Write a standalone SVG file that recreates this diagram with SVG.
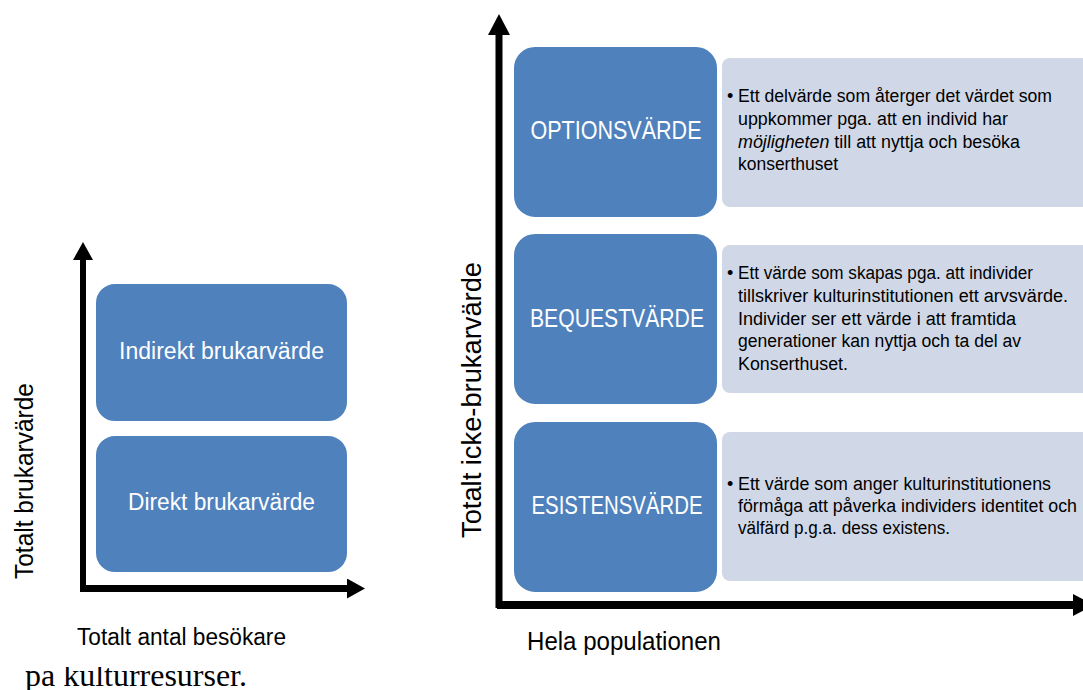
<svg xmlns="http://www.w3.org/2000/svg" width="1083" height="690" viewBox="0 0 1083 690">
<style>
.blue{fill:#4F81BD;stroke:#FFFFFF;stroke-width:2}
.light{fill:#D0D8E8;stroke:none}
.axis{stroke:#000000;fill:none}
.wt{font-family:"Liberation Sans",Arial,sans-serif;fill:#FFFFFF;text-anchor:middle}
.bt{font-family:"Liberation Sans",Arial,sans-serif;fill:#000000}
.desc{font-family:"Liberation Sans",Arial,sans-serif;fill:#000000;font-size:18px}
</style>
<defs>
<marker id="ahL" markerUnits="userSpaceOnUse" markerWidth="20" markerHeight="20" refX="0" refY="10" orient="auto" viewBox="0 0 20 20">
<path d="M0,0 L18,10 L0,20 Z" fill="#000"/>
</marker>
<marker id="ahR" markerUnits="userSpaceOnUse" markerWidth="22" markerHeight="22" refX="0" refY="11" orient="auto" viewBox="0 0 22 22">
<path d="M0,0 L21,11 L0,22 Z" fill="#000"/>
</marker>
<clipPath id="pageclip"><rect x="0" y="667" width="400" height="30"/></clipPath>
</defs>

<g id="connectors">
<line class="axis" x1="83" y1="592" x2="83" y2="260" stroke-width="6" marker-end="url(#ahL)"/>
<line class="axis" x1="80" y1="588.5" x2="347" y2="588.5" stroke-width="7" marker-end="url(#ahL)"/>
<line class="axis" x1="499" y1="608" x2="499" y2="35" stroke-width="7" marker-end="url(#ahR)"/>
<line class="axis" x1="497" y1="605" x2="1073" y2="605" stroke-width="8" marker-end="url(#ahR)"/>
</g>

<g id="node-indirekt">
<rect class="blue" x="95" y="283" width="253" height="139" rx="20"/>
<text class="wt" x="221.5" y="359" font-size="23" textLength="205" lengthAdjust="spacingAndGlyphs">Indirekt brukarvärde</text>
</g>
<g id="node-direkt">
<rect class="blue" x="95" y="435" width="253" height="138" rx="20"/>
<text class="wt" x="221.5" y="510" font-size="23" textLength="187" lengthAdjust="spacingAndGlyphs">Direkt brukarvärde</text>
</g>

<g id="label-left-y">
<text class="bt" transform="translate(33,481) rotate(-90)" text-anchor="middle" font-size="25" textLength="196" lengthAdjust="spacingAndGlyphs">Totalt brukarvärde</text>
</g>
<g id="label-left-x">
<text class="bt" x="77" y="645" font-size="23" textLength="209" lengthAdjust="spacingAndGlyphs">Totalt antal besökare</text>
</g>

<g id="desc-option">
<rect class="light" x="722" y="58" width="380" height="149" rx="8"/>
<text class="desc" x="727" y="102">•</text>
<text class="desc" x="738" y="102" textLength="314" lengthAdjust="spacingAndGlyphs">Ett delvärde som återger det värdet som</text>
<text class="desc" x="738" y="125" textLength="270" lengthAdjust="spacingAndGlyphs">uppkommer pga. att en individ har</text>
<text class="desc" x="738" y="148" textLength="282" lengthAdjust="spacingAndGlyphs"><tspan font-style="italic">möjligheten</tspan> till att nyttja och besöka</text>
<text class="desc" x="738" y="170" textLength="100" lengthAdjust="spacingAndGlyphs">konserthuset</text>
</g>
<g id="node-option">
<rect class="blue" x="513" y="46" width="205" height="172" rx="22"/>
<text class="wt" x="616" y="139" font-size="26" textLength="171" lengthAdjust="spacingAndGlyphs">OPTIONSVÄRDE</text>
</g>

<g id="desc-bequest">
<rect class="light" x="722" y="245" width="380" height="148" rx="8"/>
<text class="desc" x="727" y="279">•</text>
<text class="desc" x="738" y="279" textLength="295" lengthAdjust="spacingAndGlyphs">Ett värde som skapas pga. att individer</text>
<text class="desc" x="738" y="302" textLength="330" lengthAdjust="spacingAndGlyphs">tillskriver kulturinstitutionen ett arvsvärde.</text>
<text class="desc" x="738" y="325" textLength="278" lengthAdjust="spacingAndGlyphs">Individer ser ett värde i att framtida</text>
<text class="desc" x="738" y="347" textLength="283" lengthAdjust="spacingAndGlyphs">generationer kan nyttja och ta del av</text>
<text class="desc" x="738" y="370" textLength="110" lengthAdjust="spacingAndGlyphs">Konserthuset.</text>
</g>
<g id="node-bequest">
<rect class="blue" x="513" y="233" width="205" height="172" rx="22"/>
<text class="wt" x="617" y="327" font-size="26" textLength="174" lengthAdjust="spacingAndGlyphs">BEQUESTVÄRDE</text>
</g>

<g id="desc-existens">
<rect class="light" x="722" y="432" width="380" height="149" rx="8"/>
<text class="desc" x="727" y="490">•</text>
<text class="desc" x="738" y="490" textLength="313" lengthAdjust="spacingAndGlyphs">Ett värde som anger kulturinstitutionens</text>
<text class="desc" x="738" y="512" textLength="339" lengthAdjust="spacingAndGlyphs">förmåga att påverka individers identitet och</text>
<text class="desc" x="738" y="534" textLength="212" lengthAdjust="spacingAndGlyphs">välfärd p.g.a. dess existens.</text>
</g>
<g id="node-existens">
<rect class="blue" x="513" y="421" width="205" height="172" rx="22"/>
<text class="wt" x="617" y="514" font-size="26" textLength="171" lengthAdjust="spacingAndGlyphs">ESISTENSVÄRDE</text>
</g>

<g id="label-right-y">
<text class="bt" transform="translate(481,400) rotate(-90)" text-anchor="middle" font-size="27" textLength="276" lengthAdjust="spacingAndGlyphs">Totalt icke-brukarvärde</text>
</g>
<g id="label-right-x">
<text class="bt" x="527" y="650" font-size="25" textLength="194" lengthAdjust="spacingAndGlyphs">Hela populationen</text>
</g>

<g id="page-text" clip-path="url(#pageclip)">
<text x="25" y="686" font-family="'Liberation Serif','Times New Roman',serif" font-size="32" fill="#000" textLength="222" lengthAdjust="spacingAndGlyphs">pa kulturresurser.</text>
</g>
</svg>
